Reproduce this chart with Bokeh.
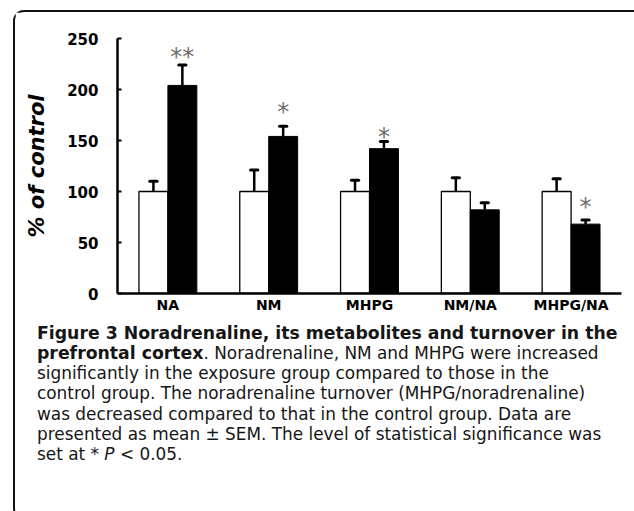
import html as _html
from bokeh.plotting import figure
from bokeh.layouts import column
from bokeh.models import ColumnDataSource, FactorRange, Range1d, FixedTicker, Div
from bokeh.transform import dodge
from bokeh.core.properties import value
from bokeh.embed import file_html
from bokeh.resources import INLINE

# ---------------- data ----------------
categories = ["NA", "NM", "MHPG", "NM/NA", "MHPG/NA"]
control_mean = [100, 100, 100, 100, 100]
control_sem = [10, 21, 11, 13.5, 12.5]
exposure_mean = [204, 154, 142, 82, 68]
exposure_sem = [20, 10, 7, 7, 4]
sig_categories = ["NA", "NM", "MHPG", "MHPG/NA"]
sig_labels = ["**", "*", "*", "*"]
sig_height = [236.5, 182.5, 158, 90]
y_ticks = [0, 50, 100, 150, 200, 250]

caption_title = "Figure 3 Noradrenaline, its metabolites and turnover in the"
caption_title_2 = "prefrontal cortex"
caption_lines = [
    ". Noradrenaline, NM and MHPG were increased",
    "significantly in the exposure group compared to those in the",
    "control group. The noradrenaline turnover (MHPG/noradrenaline)",
    "was decreased compared to that in the control group. Data are",
    "presented as mean \u00b1 SEM. The level of statistical significance was",
]
caption_last = ["set at * ", "P", " < 0.05."]

# ---------------- figure ----------------
FIG_W, FIG_H = 616, 307
BAR_W = 0.287
OFF = BAR_W / 2
CAP = 0.036

src = ColumnDataSource(dict(
    cat=categories,
    ctrl=control_mean,
    ctrl_hi=[m + s for m, s in zip(control_mean, control_sem)],
    expo=exposure_mean,
    expo_hi=[m + s for m, s in zip(exposure_mean, exposure_sem)],
))
sig_src = ColumnDataSource(dict(cat=sig_categories, txt=sig_labels, y=sig_height))

p = figure(
    width=FIG_W, height=FIG_H,
    x_range=FactorRange(*categories, range_padding=0),
    y_range=Range1d(0, 250),
    output_backend="svg", toolbar_location=None,
    min_border_left=102, min_border_right=10,
    min_border_top=26, min_border_bottom=26,
)
p.outline_line_color = None
p.xgrid.grid_line_color = None
p.ygrid.grid_line_color = None
p.background_fill_color = "white"
p.border_fill_color = "white"

p.vbar(x=dodge("cat", -OFF, range=p.x_range), top="ctrl", width=BAR_W, source=src,
       fill_color="white", line_color="black", line_width=1.3)
p.vbar(x=dodge("cat", OFF, range=p.x_range), top="expo", width=BAR_W, source=src,
       fill_color="black", line_color="black", line_width=1)

for off, lo, hi in [(-OFF, "ctrl", "ctrl_hi"), (OFF, "expo", "expo_hi")]:
    p.segment(x0=dodge("cat", off, range=p.x_range), y0=lo,
              x1=dodge("cat", off, range=p.x_range), y1=hi,
              source=src, line_color="black", line_width=2.5)
    p.segment(x0=dodge("cat", off - CAP, range=p.x_range), y0=hi,
              x1=dodge("cat", off + CAP, range=p.x_range), y1=hi,
              source=src, line_color="black", line_width=3, line_cap="round")

p.text(x=dodge("cat", OFF, range=p.x_range), y="y", text="txt", source=sig_src,
       text_font=value("DejaVu Sans"), text_font_size="24px", text_color="#6e6e6e",
       text_align="center", text_baseline="middle", y_offset=5)

p.yaxis.ticker = FixedTicker(ticks=y_ticks)
p.yaxis.axis_line_width = 2.5
p.yaxis.axis_line_color = "black"
p.yaxis.major_tick_in = 4
p.yaxis.major_tick_out = 0
p.yaxis.major_tick_line_width = 2
p.yaxis.minor_tick_line_color = None
p.yaxis.major_label_text_font = "DejaVu Sans"
p.yaxis.major_label_text_font_style = "bold"
p.yaxis.major_label_text_font_size = "15px"
p.yaxis.major_label_text_color = "black"
p.yaxis.major_label_standoff = 19
p.yaxis.axis_label = "% of control"
p.yaxis.axis_label_text_font = "DejaVu Sans"
p.yaxis.axis_label_text_font_style = "bold italic"
p.yaxis.axis_label_text_font_size = "21px"
p.yaxis.axis_label_text_color = "black"
p.yaxis.axis_label_standoff = 15

p.xaxis.axis_line_width = 2.5
p.xaxis.axis_line_color = "black"
p.xaxis.major_tick_line_color = None
p.xaxis.major_tick_in = 0
p.xaxis.major_tick_out = 0
p.xaxis.minor_tick_line_color = None
p.xaxis.major_label_text_font = "DejaVu Sans"
p.xaxis.major_label_text_font_style = "bold"
p.xaxis.major_label_text_font_size = "14px"
p.xaxis.major_label_text_color = "black"
p.xaxis.major_label_standoff = 3

# ---------------- caption ----------------
esc = _html.escape
BOLD_PX = 17.3
cap_html = (
    "<div style=\"font-family:'DejaVu Sans';color:#161616;font-size:16.9px;line-height:20.3px;"
    "padding:0 0 0 17px;margin-top:-1.5px;white-space:nowrap;\">"
    f"<b style='font-size:{BOLD_PX}px'>{esc(caption_title)}</b><br>"
    f"<b style='font-size:{BOLD_PX}px'>{esc(caption_title_2)}</b>{esc(caption_lines[0])}<br>"
    + "<br>".join(esc(t) for t in caption_lines[1:]) + "<br>"
    f"{esc(caption_last[0])}<i>{esc(caption_last[1])}</i>{esc(caption_last[2])}"
    "</div>"
)
caption = Div(text=cap_html, width=FIG_W, height=190)

layout = column(p, caption, margin=(10, 0, 0, 13), styles={
    "border-top": "2px solid #111",
    "border-left": "2px solid #111",
    "border-top-left-radius": "11px",
    "border-top-right-radius": "6px",
    "border-bottom-left-radius": "11px",
    "background": "white",
})

open("out.html", "w").write(file_html(layout, INLINE))
